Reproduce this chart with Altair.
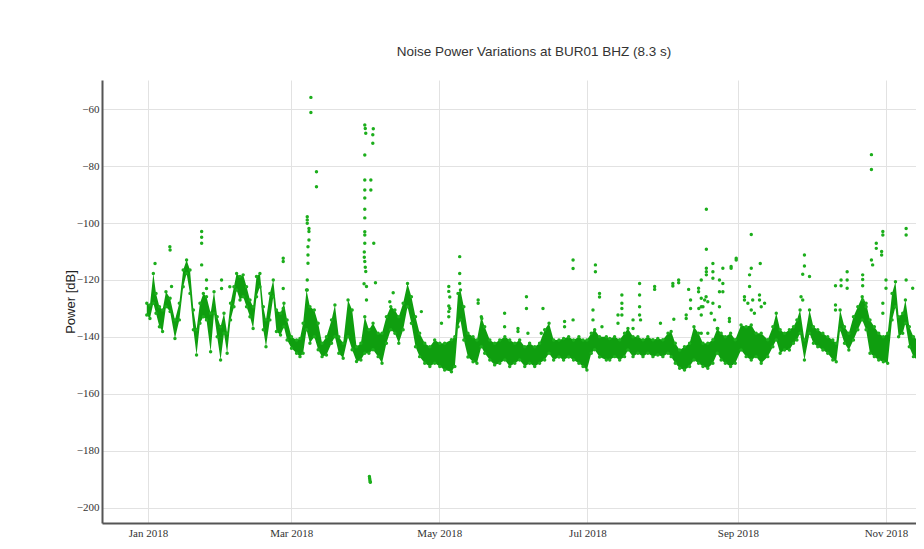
import altair as alt
import pandas as pd

# ---- data (days since 2018-01-01, power in dB) ----
band_day = [-0.5, 0.8, 2.2, 3.3, 4.7, 6.0, 7.4, 9.1, 11.1, 12.9, 14.5, 15.9, 17.3, 18.7, 20.0, 21.4, 22.8, 24.1,
            25.8, 27.2, 28.5, 29.9, 31.3, 32.6, 34.0, 35.4, 36.5, 37.9, 39.2, 40.6, 42.0, 43.3, 44.7, 46.1, 47.5,
            48.6, 50.2, 51.6, 52.9, 54.6, 56.0, 57.3, 59.1, 61.2,
            62.6, 63.9, 65.3, 66.7, 68.5, 70.1, 71.7, 73.5, 75.6, 77.0, 78.6, 80.4, 82.4, 84.1, 85.9, 87.7, 89.3,
            91.0, 92.7, 94.8, 96.4, 98.2, 100.0, 101.7, 103.3, 105.1, 106.9, 108.5, 110.2, 111.9, 114.0, 116.1,
            118.1, 120.2, 122.2, 125.0,
            126.4, 127.7, 128.7, 130.1, 131.8, 133.9, 135.5, 137.3, 138.7, 140.8, 142.8, 144.9, 147.0, 149.0,
            151.1, 153.1, 155.2, 157.2, 159.3, 161.3, 163.4, 165.2, 167.1, 169.3, 171.2, 173.3, 175.3, 177.5,
            179.2, 180.8, 182.6, 184.0, 186.0, 188.8,
            190.2, 192.2, 194.3, 196.3, 197.7, 199.8, 201.8, 203.9, 205.9, 208.0, 210.0, 212.1, 214.2, 215.5,
            217.2, 219.0, 221.0, 223.1, 224.9, 226.8, 228.6, 230.6, 232.7, 234.5, 236.1, 237.8, 240.0, 241.9,
            244.3, 246.4, 248.5, 250.5, 252.6,
            255.3, 257.4, 258.8, 260.4, 262.2, 264.2, 265.9, 267.3, 268.6, 270.4, 272.5, 274.1, 275.9, 278.0,
            280.0, 282.1, 283.5, 285.1, 286.9, 288.7, 290.6, 292.4, 294.2, 295.8, 297.4, 299.2, 301.0, 302.9,
            304.7, 306.5, 307.9, 309.2, 310.9, 312.0, 313.6, 315.3, 317.1, 319.1]
band_hi = [-128.2, -128.8, -117.7, -124.7, -129.4, -130.5, -124.1, -126.4, -134.0, -128.2, -116.5, -113.0, -116.5,
           -130.5, -137.5, -128.2, -124.7, -125.9, -131.7, -124.1, -132.9, -136.4, -131.7, -138.7, -128.2, -122.4,
           -117.7, -118.8, -118.2, -122.4, -127.0, -129.4, -118.8, -117.7, -129.4, -134.0, -124.7, -120.0, -130.5,
           -131.7, -128.2, -134.0, -139.9, -141.1,
           -140.5, -135.2, -123.5, -129.4, -130.5, -135.2, -142.2, -139.9, -134.0, -128.8, -139.9, -142.2, -127.0,
           -130.5, -143.4, -142.2, -132.9, -137.5, -135.2, -138.7, -138.7, -132.9, -129.4, -130.5, -132.9, -128.2,
           -121.2, -125.9, -132.9, -138.7, -142.2, -143.4, -141.1, -142.2, -142.2, -141.0,
           -139.9, -124.7, -123.5, -129.4, -138.7, -139.9, -141.1, -132.9, -136.4, -141.1, -142.2, -141.1, -139.9,
           -141.1, -142.2, -141.1, -143.4, -142.2, -143.4, -142.2, -137.5, -135.2, -141.1, -141.1, -140.5, -139.9,
           -141.1, -139.9, -141.1, -141.1, -138.7, -137.5, -139.9, -139.9,
           -140.5, -139.9, -141.0, -138.7, -137.0, -139.9, -139.9, -141.0, -139.9, -141.0, -140.5, -141.0, -138.7,
           -138.1, -142.2, -144.6, -143.4, -142.2, -136.4, -138.7, -142.2, -142.2, -141.0, -137.0, -138.7, -139.9,
           -138.7, -141.0, -135.8, -136.4, -135.8, -138.7, -138.7,
           -141.0, -136.4, -131.7, -137.5, -138.7, -137.5, -136.4, -134.0, -130.5, -141.1, -130.5, -136.4, -137.5,
           -138.7, -139.9, -141.1, -142.2, -130.5, -136.4, -138.7, -132.9, -129.4, -125.9, -128.2, -134.0, -136.4,
           -138.7, -139.9, -138.7, -124.7, -120.6, -132.9, -131.7, -127.0, -136.4, -139.9, -141.1, -141.1]
band_lo = [-132.3, -133.5, -128.2, -131.7, -136.4, -138.1, -129.4, -131.1, -140.5, -134.0, -122.4, -117.7, -124.7,
           -137.5, -146.3, -135.2, -132.9, -134.0, -145.2, -131.7, -139.9, -148.1, -138.7, -145.7, -134.0, -129.4,
           -123.5, -127.0, -125.9, -129.4, -132.9, -137.0, -125.9, -122.4, -137.5, -143.4, -134.0, -125.9, -138.1,
           -139.3, -136.4, -141.1, -144.0, -145.7,
           -146.9, -145.7, -137.5, -142.2, -139.9, -144.5, -146.9, -146.3, -142.2, -139.9, -145.7, -147.5, -139.9,
           -144.5, -148.6, -148.1, -145.7, -145.7, -144.5, -146.9, -149.2, -142.2, -137.5, -138.7, -142.2, -137.5,
           -129.4, -135.2, -143.4, -146.9, -149.2, -150.4, -149.2, -150.4, -151.6, -152.2,
           -150.4, -136.4, -134.0, -141.1, -147.0, -148.7, -149.2, -143.4, -145.7, -148.1, -149.8, -149.2, -148.1,
           -150.4, -149.2, -148.1, -150.4, -149.2, -150.4, -149.2, -148.1, -145.7, -148.1, -147.0, -148.1, -147.0,
           -148.1, -149.2, -150.4, -151.6, -145.7, -144.5, -147.0, -148.1,
           -148.1, -146.9, -148.1, -146.9, -144.6, -146.9, -145.7, -146.9, -145.7, -146.9, -146.3, -146.9, -145.7,
           -146.9, -149.2, -151.0, -151.6, -150.4, -148.1, -149.2, -150.4, -151.0, -149.2, -145.7, -148.1, -149.2,
           -150.4, -149.2, -144.6, -146.9, -148.1, -146.9, -149.2,
           -146.9, -143.4, -141.1, -145.7, -144.6, -144.6, -142.2, -141.1, -138.7, -148.1, -138.7, -142.2, -143.4,
           -144.6, -145.7, -148.1, -148.7, -137.5, -142.2, -144.6, -141.1, -137.5, -134.0, -137.5, -145.7, -146.9,
           -148.1, -148.7, -149.2, -134.0, -129.4, -139.9, -138.7, -135.2, -143.4, -146.9, -148.1, -149.2]

out_day = [2.9, 9.0, 9.1, 9.7, 22.1, 22.1, 22.1, 22.1, 24.1, 24.1, 30.3, 30.3, 33.7, 55.7, 55.7, 55.7, 55.7,
           65.6, 65.6, 65.6, 66.3, 66.3, 66.3, 65.9, 65.9, 65.9, 65.6, 65.6,
           67.1, 67.1, 69.4, 69.4,
           89.3, 89.5, 89.7, 89.3, 89.3, 89.3, 89.3, 89.3, 89.3, 89.3, 89.3, 89.3, 89.1, 89.1, 89.3, 89.5, 89.7,
           90.0, 90.0, 89.0,
           92.8, 92.6, 92.6, 91.8, 91.8, 93.0, 93.7,
           91.2, 91.3, 91.4, 91.5, 91.6,
           99.6, 101.0, 112.6, 120.9, 123.9, 123.9, 123.9, 123.9, 123.9, 124.3, 124.3,
           128.4, 128.4, 128.4, 136.0, 136.0, 137.5,
           146.9, 146.9, 152.4, 152.4, 155.9, 155.9, 156.5, 162.7, 162.0, 171.6, 171.6, 175.1, 175.1, 175.1,
           184.3, 184.3, 183.3, 183.3, 186.0, 186.0, 187.0,
           230.0, 230.0, 230.0, 230.0, 230.0, 232.7, 232.7, 232.7, 227.9, 227.9, 227.9, 227.9, 227.9, 248.5,
           252.2, 242.3, 242.3, 240.2, 240.2, 236.8, 235.4, 235.4, 236.8, 236.8, 202.5, 202.5, 208.7, 208.7,
           216.2, 216.2, 218.6, 218.6, 222.7, 226.8, 226.8, 195.2, 195.2, 195.2, 193.6, 195.2, 193.6, 202.5,
           202.5, 202.9, 199.8, 199.8, 211.1, 216.6, 221.7, 221.7, 223.5, 223.5, 226.9, 228.6, 229.3, 229.9,
           230.6, 232.7, 232.0, 233.4, 230.6, 234.7, 235.4, 239.5, 239.5, 245.7, 245.7, 247.1, 248.5, 249.1,
           249.8, 251.9, 251.9, 252.6, 248.5, 247.8, 247.8,
           298.0, 298.0, 302.7, 302.7, 300.0, 300.0, 302.2, 302.2, 298.0, 298.5, 312.3, 312.3, 270.4, 270.4,
           269.7, 272.5, 294.4, 294.4, 288.0, 285.5, 285.5, 283.2, 288.0, 288.0, 294.4, 304.0, 304.0, 312.3,
           315.0, 318.4, 318.4, 254.0, 269.0, 269.7, 294.4, 295.8, 283.2, 283.2, 302.7, 302.7]
out_val = [-114.2, -108.3, -109.5, -122.3, -103.0, -105.0, -107.1, -114.7, -120.0, -123.0, -120.0, -123.0, -122.4,
           -112.4, -113.5, -123.0, -130.0,
           -97.8, -98.9, -100.1, -101.9, -103.0, -106.0, -108.3, -111.2, -114.1, -120.0, -123.5,
           -55.9, -61.2, -82.0, -87.3,
           -65.6, -66.8, -68.5, -76.1, -84.9, -88.4, -91.2, -95.2, -98.2, -103.1, -104.2, -107.1, -110.2, -112.0,
           -113.5, -115.5, -117.0, -122.3, -127.0, -121.3,
           -66.9, -69.0, -72.0, -84.9, -88.4, -107.1, -121.0,
           -189.0, -189.6, -190.2, -190.8, -191.0,
           -127.6, -124.5, -131.1, -135.2, -122.3, -124.0, -129.1, -131.1, -132.9, -126.0, -130.0,
           -111.8, -117.7, -121.2, -127.0, -128.2, -133.5,
           -131.7, -136.4, -137.0, -138.1, -125.9, -130.0, -138.7, -130.0, -138.7, -134.6, -136.4, -113.0, -116.0,
           -134.0, -114.7, -117.1, -130.5, -134.0, -124.7, -126.0, -136.4,
           -95.2, -109.2, -115.9, -117.1, -118.2, -114.2, -117.1, -119.4, -120.0, -126.4, -129.4, -132.3, -138.7,
           -104.0, -114.2, -112.4, -113.0, -115.3, -115.9, -115.9, -120.0, -124.1, -121.2, -124.1, -121.2, -125.3,
           -122.3, -123.3, -121.2, -122.1, -120.0, -121.0, -123.3, -122.9, -124.1, -125.3, -128.2, -130.0, -132.3,
           -132.3, -135.2, -129.4, -132.3, -134.0, -134.0, -137.0, -135.2, -133.8, -132.3, -133.5, -127.0, -130.0,
           -130.0, -129.4, -127.0, -125.9, -127.6, -128.2, -131.7, -134.0, -138.7, -137.0, -129.4, -133.5, -134.6,
           -125.9, -127.0, -128.2, -130.5, -127.0, -131.7, -125.3, -127.0, -129.4, -115.9, -118.2, -122.3,
           -76.0, -81.2, -103.0, -104.2, -107.1, -108.9, -110.0, -111.2, -113.0, -114.7, -101.9, -104.2, -111.2,
           -115.1, -118.0, -118.8, -118.2, -119.8, -117.1, -120.0, -122.0, -122.0, -120.0, -122.9, -122.0, -120.0,
           -122.9, -120.0, -122.9, -121.2, -122.9, -128.2, -125.9, -127.0, -127.0, -129.4, -128.8, -130.5, -128.2,
           -131.7]

tick_days = [0, 59, 120, 181, 243, 304]           # Jan, Mar, May, Jul, Sep, Nov 1st
y_ticks = [-200, -180, -160, -140, -120, -100, -80, -60]
x_range_days = [-18.95, 316.36]
y_range = [-205.3, -49.8]

EPOCH_2018 = 1514764800000
DAY_MS = 86400000


def to_ms(d):
    return EPOCH_2018 + int(round(d * DAY_MS))


band = pd.DataFrame({"t": [to_ms(d) for d in band_day], "hi": band_hi, "lo": band_lo})
pts = pd.DataFrame({
    "t": [to_ms(d) for d in band_day] * 2 + [to_ms(d) for d in out_day],
    "v": band_hi + band_lo + out_val,
})

x_enc = alt.X(
    "t:T",
    scale=alt.Scale(type="utc", domain=[to_ms(d) for d in x_range_days], nice=False),
    axis=alt.Axis(
        title=None,
        values=[to_ms(d) for d in tick_days],
        labelExpr="utcFormat(datum.value, '%b %Y')",
        labelPadding=4,
    ),
)
y_scale = alt.Scale(domain=y_range, nice=False, zero=False)
y_axis = alt.Axis(title="Power [dB]", values=y_ticks, labelPadding=3, titlePadding=-1)

GREEN_BAND = "#0f9e0f"
GREEN_PT = "#1cae1c"

area = alt.Chart(band).mark_area(color=GREEN_BAND, opacity=1, clip=True).encode(
    x=x_enc,
    y=alt.Y("hi:Q", scale=y_scale, axis=y_axis),
    y2="lo:Q",
)
points = alt.Chart(pts).mark_circle(size=12, color=GREEN_PT, opacity=1, clip=True).encode(
    x=x_enc,
    y=alt.Y("v:Q", scale=y_scale, axis=y_axis),
)

chart = (
    alt.layer(area, points)
    .properties(
        width=814,
        height=443,
        padding={"left": 94, "top": 72, "right": 0, "bottom": 16},
        autosize=alt.AutoSizeParams(type="none"),
        title=alt.TitleParams(
            "Noise Power Variations at BUR01 BHZ (8.3 s)",
            font="Liberation Sans",
            fontSize=13.5,
            fontWeight="normal",
            color="#333333",
            anchor="middle",
            dx=25,
            offset=22,
        ),
    )
    .configure_view(strokeWidth=0)
    .configure_axis(
        grid=True,
        gridColor="#e2e2e2",
        gridWidth=1,
        domainColor="#555555",
        domainWidth=2,
        ticks=False,
        labelFont="Liberation Serif",
        labelFontSize=11,
        labelColor="#333333",
        titleFont="Liberation Sans",
        titleFontSize=13,
        titleFontWeight="normal",
        titleColor="#222222",
    )
)

chart.save("out.html", embed_options={"renderer": "svg", "actions": False})
